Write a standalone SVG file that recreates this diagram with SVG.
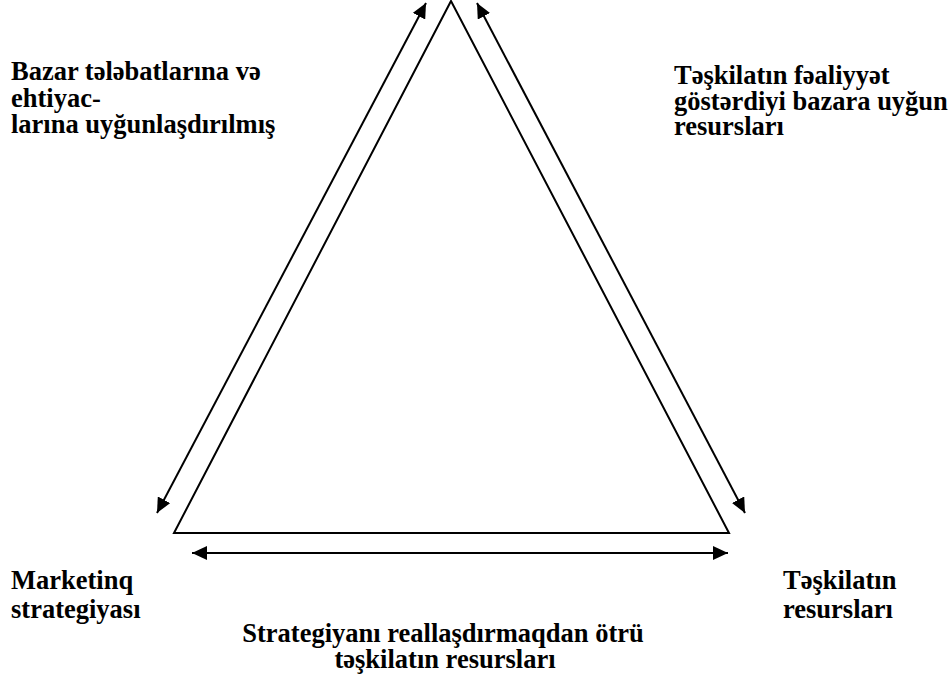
<svg xmlns="http://www.w3.org/2000/svg" width="951" height="684" viewBox="0 0 951 684">
  <style>
    .lbl { font-family: "Liberation Serif", "Times New Roman", serif; font-weight: bold; font-size: 26.5px; fill: #000; }
    .mid { text-anchor: middle; }
    .edge { stroke: #000; stroke-width: 2; fill: none; }
  </style>
  <defs>
    <marker id="head" viewBox="0 0 15 14" refX="15" refY="7" markerWidth="15" markerHeight="14" markerUnits="userSpaceOnUse" orient="auto-start-reverse">
      <path d="M0,0 L15,7 L0,14 z" fill="#000"/>
    </marker>
  </defs>
  <rect width="951" height="684" fill="#fff"/>

  <!-- central triangle -->
  <g id="triangle">
    <polygon class="edge" points="451,1 174,533 729,533" stroke-linejoin="miter"/>
  </g>

  <!-- two-headed arrows along each side -->
  <g id="connectors">
    <line class="edge" x1="426" y1="3" x2="157" y2="513" marker-start="url(#head)" marker-end="url(#head)"/>
    <line class="edge" x1="477" y1="3" x2="745" y2="513" marker-start="url(#head)" marker-end="url(#head)"/>
    <line class="edge" x1="192" y1="553" x2="728" y2="553" marker-start="url(#head)" marker-end="url(#head)"/>
  </g>

  <g id="market-needs">
    <text class="lbl" x="11" y="80">Bazar tələbatlarına və</text>
    <text class="lbl" x="11" y="107">ehtiyac-</text>
    <text class="lbl" x="11" y="133">larına uyğunlaşdırılmış</text>
  </g>

  <g id="market-resources">
    <text class="lbl" x="674" y="84">Təşkilatın fəaliyyət</text>
    <text class="lbl" x="674" y="110">göstərdiyi bazara uyğun</text>
    <text class="lbl" x="674" y="135">resursları</text>
  </g>

  <g id="marketing-strategy">
    <text class="lbl" x="11" y="589">Marketinq</text>
    <text class="lbl" x="11" y="618">strategiyası</text>
  </g>

  <g id="org-resources">
    <text class="lbl" x="783" y="589">Təşkilatın</text>
    <text class="lbl" x="783" y="618">resursları</text>
  </g>

  <g id="implementation-resources">
    <text class="lbl mid" x="443" y="642">Strategiyanı reallaşdırmaqdan ötrü</text>
    <text class="lbl mid" x="445" y="668">təşkilatın resursları</text>
  </g>
</svg>
